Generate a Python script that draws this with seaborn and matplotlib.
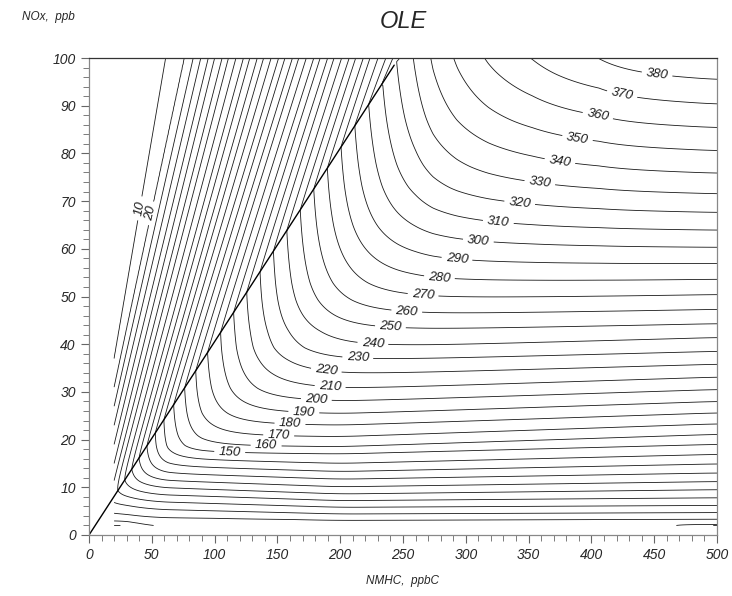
import numpy as np
import matplotlib
matplotlib.use("Agg")
import matplotlib.pyplot as plt
import seaborn as sns

# ---------------- values ----------------
# straight ridge line drawn from the origin
ridge_nmhc = [0, 243]
ridge_nox = [0, 98.5]

# ozone (ppb) reached along that ridge line (and its extension), by NMHC position
ridge_pt_nmhc = [20, 40, 63, 90, 124, 246, 260, 274, 293, 318, 353, 406, 500]
ridge_pt_o3 = [80, 112, 146, 177, 210, 327, 340, 354, 370, 389, 413, 456, 600]

# upper-left (VOC-limited) isopleths: NMHC where each level meets NOx = 100
a_levels = [0, 10, 20, 30, 40, 50, 60, 70, 80, 90, 100, 110, 120, 130, 140, 150, 160,
            170, 180, 190, 200, 210, 220, 230, 240, 250, 260, 270, 280, 290, 300, 310, 320]
a_top_nmhc = [47, 61, 76, 83, 89, 95, 100, 106, 111, 117, 123, 128, 134, 139, 145, 151, 156,
              162, 167, 173, 179, 184, 190, 195, 201, 207, 212, 218, 223, 229, 235, 240, 245]
# NOx where the lowest levels start on the left edge (NMHC = 20)
a_left_levels = [0, 10, 20, 30, 40, 50, 60, 70]
a_left_nox = [50, 37, 31, 27, 23, 19, 15, 11.5]

# lower-right (NOx-limited) isopleths: NOx of each level at NMHC = 20, 50, 200 and 500
b_levels = [50, 60, 70, 80, 90, 100, 110, 120, 130, 140, 150, 160, 170, 180, 190, 200, 210,
            220, 230, 240, 250, 260, 270, 280, 290, 300, 310, 320, 330, 340, 350, 360, 370,
            380, 390]
b_anchor_nmhc = [20, 50, 200, 500]
b_nox_20 = [2.9, 4.6, 6.6, 8.4, 10.2, 12.0, 13.8, 15.6, 17.4, 19.2, 21.0, 21.8, 23.9, 26.3,
            28.7, 31.3, 33.9, 36.9, 39.8, 42.5, 46.0, 49.2, 52.5, 56.1, 60.1, 64.1, 68.1,
            72.3, 76.6, 81.3, 86.3, 91.3, 96.6, 101.8, 107.3]
b_nox_50 = [1.6, 3.7, 5.4, 7.0, 8.5, 10.0, 11.5, 13.0, 14.5, 16.0, 17.4, 18.8, 20.9, 23.3,
            25.7, 28.3, 30.9, 33.9, 36.8, 39.5, 43.0, 46.2, 49.5, 53.1, 57.1, 61.1, 65.1,
            69.3, 73.6, 78.3, 83.3, 88.3, 93.6, 98.8, 104.3]
b_nox_200 = [0.5, 3.1, 4.4, 5.8, 7.2, 8.6, 10.1, 11.7, 13.3, 15.0, 17.0, 18.5, 20.6, 23.0,
             25.4, 28.0, 30.6, 33.6, 36.5, 39.2, 42.7, 45.9, 49.2, 52.8, 56.8, 60.8, 64.8,
             69.0, 73.3, 78.0, 83.0, 88.0, 93.3, 98.5, 104.0]
b_nox_500 = [2.1, 3.3, 4.7, 6.2, 7.8, 9.5, 11.2, 13.0, 14.9, 16.9, 19.0, 21.1, 23.3, 25.6,
             28.0, 30.5, 33.1, 35.8, 38.5, 41.4, 44.3, 47.3, 50.4, 53.6, 56.9, 60.3, 63.9,
             67.6, 71.5, 75.8, 80.5, 85.3, 90.2, 95.3, 100.5]

# contour levels and labels
contour_levels = list(range(10, 400, 10))
label_levels = [10, 20, 150, 160, 170, 180, 190, 200, 210, 220, 230, 240, 250, 260, 270,
                280, 290, 300, 310, 320, 330, 340, 350, 360, 370, 380]
label_nmhc = [42, 50, 112, 141, 151, 160, 171, 181, 192, 189, 214, 226, 240, 253, 266,
              279, 293, 310, 326, 343, 359, 375, 389, 405, 424, 452]
label_nox = [68.4, 67.4, 17.2, 18.5, 20.7, 23.2, 25.6, 28.4, 31.2, 34.7, 37.2, 40.1, 43.7,
             47.0, 50.4, 54.0, 58.0, 61.7, 65.9, 69.9, 74.0, 78.5, 83.3, 87.7, 91.8, 96.0]

x_ticks = [0, 50, 100, 150, 200, 250, 300, 350, 400, 450, 500]
y_ticks = [0, 10, 20, 30, 40, 50, 60, 70, 80, 90, 100]

# ---------------- build the ozone field from the read isopleths ----------------
slope = ridge_nox[1] / ridge_nmhc[1]
xg = np.linspace(20, 500, 481)
yg = np.linspace(2, 100, 393)
XX, YY = np.meshgrid(xg, yg)

ridge_val = np.interp(xg, ridge_pt_nmhc, ridge_pt_o3)

a_lv = np.array(a_levels, float)
xl = np.empty_like(a_lv)
yl = np.empty_like(a_lv)
for i, lv in enumerate(a_levels):
    if lv in a_left_levels:
        xl[i] = 20.0
        yl[i] = a_left_nox[a_left_levels.index(lv)]
    else:
        xr = np.interp(lv, ridge_pt_o3, ridge_pt_nmhc)
        xl[i] = xr
        yl[i] = slope * xr
xt = np.array(a_top_nmhc, float)
A = np.empty_like(XX)
for j, y in enumerate(yg):
    xs = xl + (y - yl) * (xt - xl) / np.maximum(100 - yl, 1e-6)
    xs = np.maximum.accumulate(xs + np.arange(len(xs)) * 1e-6)
    A[j] = np.interp(xg, xs, a_lv, left=a_lv[0], right=a_lv[-1])

Z1 = np.where(YY >= slope * XX, A, ridge_val[None, :])

b_lv = np.array(b_levels, float)
b_tab = np.array([b_nox_20, b_nox_50, b_nox_200, b_nox_500])   # anchors x levels
B = np.empty_like(XX)
for i, x in enumerate(xg):
    ys = np.array([np.interp(x, b_anchor_nmhc, b_tab[:, n]) for n in range(len(b_levels))])
    ys = np.maximum.accumulate(ys + np.arange(len(ys)) * 1e-6)
    B[:, i] = np.interp(yg, ys, b_lv, left=b_lv[0] - 10, right=b_lv[-1])

# soften the kinks between the anchor columns (running mean along NMHC)
half = 15
Bp = np.pad(B, ((0, 0), (half, half)), mode='edge')
kern = np.ones(2 * half + 1) / (2 * half + 1)
B = np.array([np.convolve(row, kern, mode='valid') for row in Bp])

p = 10.0
Z1c = np.maximum(Z1, 1.0)
Z = (Z1c ** -p + np.maximum(B, 1.0) ** -p) ** (-1.0 / p)

# ---------------- draw ----------------
sns.set_theme(style="ticks")
plt.rcParams['font.family'] = ['Liberation Sans', 'DejaVu Sans']

fig = plt.figure(figsize=(7.32, 5.96), dpi=100)
ax = fig.add_axes([89 / 732, 1 - 535 / 596, 628 / 732, 477 / 596])

line_kw = dict(colors='#1a1a1a', linewidths=0.6)
plain_levels = [l for l in contour_levels if l not in label_levels]
ax.contour(XX, YY, Z, levels=plain_levels, **line_kw)
for lv, lx, ly in zip(label_levels, label_nmhc, label_nox):
    cl = ax.contour(XX, YY, Z, levels=[lv], **line_kw)
    texts = ax.clabel(cl, inline=True, inline_spacing=5, fontsize=9.5, fmt='%d',
                      manual=[(lx, ly)])
    for t in texts:
        t.set_fontstyle('italic')

sns.lineplot(x=ridge_nmhc, y=ridge_nox, ax=ax, color='black', linewidth=1.0)

ax.set_xlim(0, 500)
ax.set_ylim(0, 100)
ax.set_xticks(x_ticks)
ax.set_yticks(y_ticks)
ax.set_xticks(np.arange(0, 501, 10), minor=True)
ax.set_yticks(np.arange(0, 101, 2), minor=True)
ax.tick_params(which='both', direction='out', color='#666666', labelsize=10)
ax.tick_params(which='major', length=6, width=0.8)
ax.tick_params(which='minor', length=4, width=0.6)
for lab in ax.get_xticklabels() + ax.get_yticklabels():
    lab.set_fontstyle('italic')
for sp in ax.spines.values():
    sp.set_visible(True)
    sp.set_linewidth(0.9)
ax.spines['top'].set_color('#333333')
ax.spines['right'].set_color('#888888')
ax.spines['left'].set_color('#888888')
ax.spines['bottom'].set_color('#888888')

fig.text(403 / 732, 1 - 22 / 596, 'OLE', ha='center', va='center', fontsize=17,
         fontstyle='italic')
fig.text(22 / 732, 1 - 17 / 596, 'NOx,  ppb', ha='left', va='center', fontsize=8.5,
         fontstyle='italic')
fig.text(403 / 732, 1 - 581 / 596, 'NMHC,  ppbC', ha='center', va='center', fontsize=8.5,
         fontstyle='italic')

fig.savefig('out.png', dpi=100)
